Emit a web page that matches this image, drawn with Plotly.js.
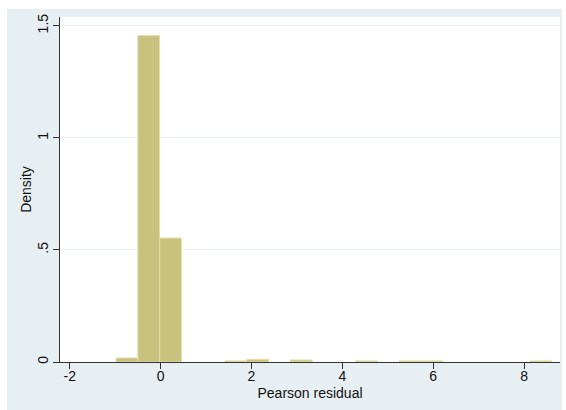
<!DOCTYPE html>
<html>
<head>
<meta charset="utf-8">
<script src="https://cdn.plot.ly/plotly-3.0.1.min.js"></script>
<style>
  html, body { margin: 0; padding: 0; background: #ffffff; width: 566px; height: 410px; overflow: hidden; }
  #chart { position: absolute; left: 7px; top: 9px; width: 555px; height: 401px; }
</style>
</head>
<body>
<div id="chart"></div>
<script>
// Histogram of Pearson residuals (density scale)
const binCenters = [-0.742, -0.262, 0.218, 1.656, 2.136, 3.095, 4.534, 5.493, 5.973, 8.370];
const densities  = [0.018, 1.456, 0.553, 0.005, 0.012, 0.009, 0.005, 0.005, 0.005, 0.005];
const binWidth = 0.4796;

const xTickVals = [-2, 0, 2, 4, 6, 8];
const xTickText = ['-2', '0', '2', '4', '6', '8'];
const yTickVals = [0, 0.5, 1, 1.5];
const yTickText = ['0', '.5', '1', '1.5'];

const trace = {
  type: 'bar',
  x: binCenters,
  y: densities,
  width: binCenters.map(() => binWidth),
  marker: { color: '#c9c27f', line: { color: '#e2deb0', width: 1 } },
  hoverinfo: 'x+y'
};

const tickFont = { family: 'Liberation Sans, Arial, sans-serif', size: 14, color: '#111111' };
const titleFont = { family: 'Liberation Sans, Arial, sans-serif', size: 14, color: '#111111' };

const layout = {
  width: 555,
  height: 401,
  margin: { l: 53, r: 2, t: 8, b: 47.5, pad: 0 },
  paper_bgcolor: '#e8eff2',
  plot_bgcolor: '#ffffff',
  showlegend: false,
  bargap: 0,
  font: tickFont,
  xaxis: {
    range: [-2.214, 8.79],
    tickmode: 'array',
    tickvals: xTickVals,
    ticktext: xTickText,
    showgrid: false,
    zeroline: false,
    showline: true,
    linecolor: '#333333',
    linewidth: 1,
    ticks: 'outside',
    ticklen: 6,
    tickcolor: '#333333',
    tickfont: tickFont,
    ticklabelstandoff: -5,
    title: { text: 'Pearson residual', font: titleFont, standoff: 5 },
    automargin: false,
    fixedrange: true
  },
  yaxis: {
    range: [0, 1.539],
    tickmode: 'array',
    tickvals: yTickVals,
    ticktext: yTickText,
    tickangle: -90,
    showgrid: true,
    gridcolor: '#e9f1f3',
    gridwidth: 1,
    zeroline: false,
    showline: true,
    linecolor: '#333333',
    linewidth: 1,
    ticks: 'outside',
    ticklen: 6,
    tickcolor: '#333333',
    tickfont: tickFont,
    ticklabelstandoff: -1,
    title: { text: 'Density', font: titleFont, standoff: 0 },
    automargin: false,
    fixedrange: true
  }
};

Plotly.newPlot('chart', [trace], layout, { displayModeBar: false, staticPlot: true });
</script>
</body>
</html>
